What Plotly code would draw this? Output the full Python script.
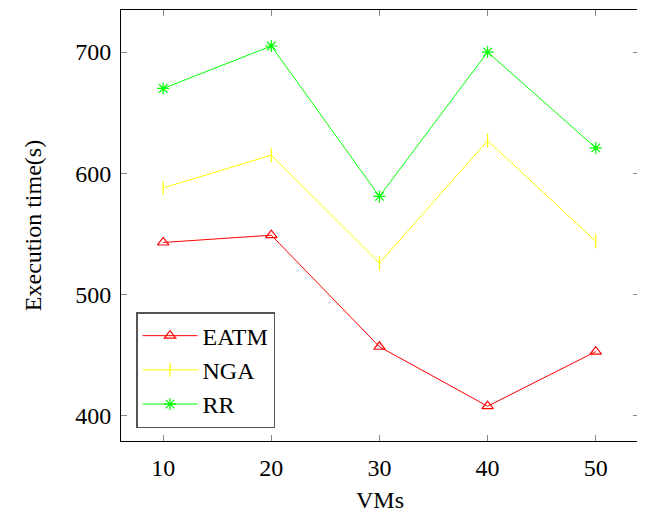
import plotly.graph_objects as go

vms = [10, 20, 30, 40, 50]
eatm = [543, 549, 457, 408, 453]
nga = [588, 615, 526, 627, 544]
rr = [670, 705, 581, 700, 621]

series = [
    ("EATM", eatm, "#ff0000", "triangle-up-open"),
    ("NGA", nga, "#ffff00", "line-ns-open"),
    ("RR", rr, "#00ff00", "asterisk-open"),
]

fig = go.Figure()
for name, ys, color, sym in series:
    fig.add_trace(go.Scatter(
        x=vms, y=ys, name=name, mode="lines+markers",
        line=dict(color=color, width=1),
        marker=dict(symbol=sym, size=10, color=color, line=dict(color=color, width=1.2)),
    ))

font = "Liberation Serif"
fig.update_layout(
    width=637, height=506,
    margin=dict(l=113, r=6, t=2, b=73),
    paper_bgcolor="white", plot_bgcolor="white",
    font=dict(family=font, size=24, color="black"),
    showlegend=True,
    legend=dict(x=0.029, y=0.03, xanchor="left", yanchor="bottom",
                bgcolor="white", bordercolor="#555555", borderwidth=1.5,
                itemwidth=55, tracegroupgap=0,
                font=dict(size=24, family=font)),
    xaxis=dict(range=[6.1, 54.0], tickvals=vms, ticks="inside", ticklen=6,
               tickcolor="#888888", showline=True, linecolor="black", linewidth=1,
               mirror="ticks", showgrid=False, zeroline=False, automargin=False,
               ticklabelstandoff=5,
               title=dict(text="VMs", standoff=11, font=dict(size=24))),
    yaxis=dict(range=[379.3, 734.7], tickvals=[400, 500, 600, 700], ticks="inside",
               ticklen=6, tickcolor="#888888", showline=True, linecolor="black",
               linewidth=1, mirror="ticks", showgrid=False, zeroline=False,
               automargin=False, ticklabelstandoff=4,
               title=dict(text="Execution time(s)", standoff=26, font=dict(size=24))),
)

fig.write_html("out.html")
